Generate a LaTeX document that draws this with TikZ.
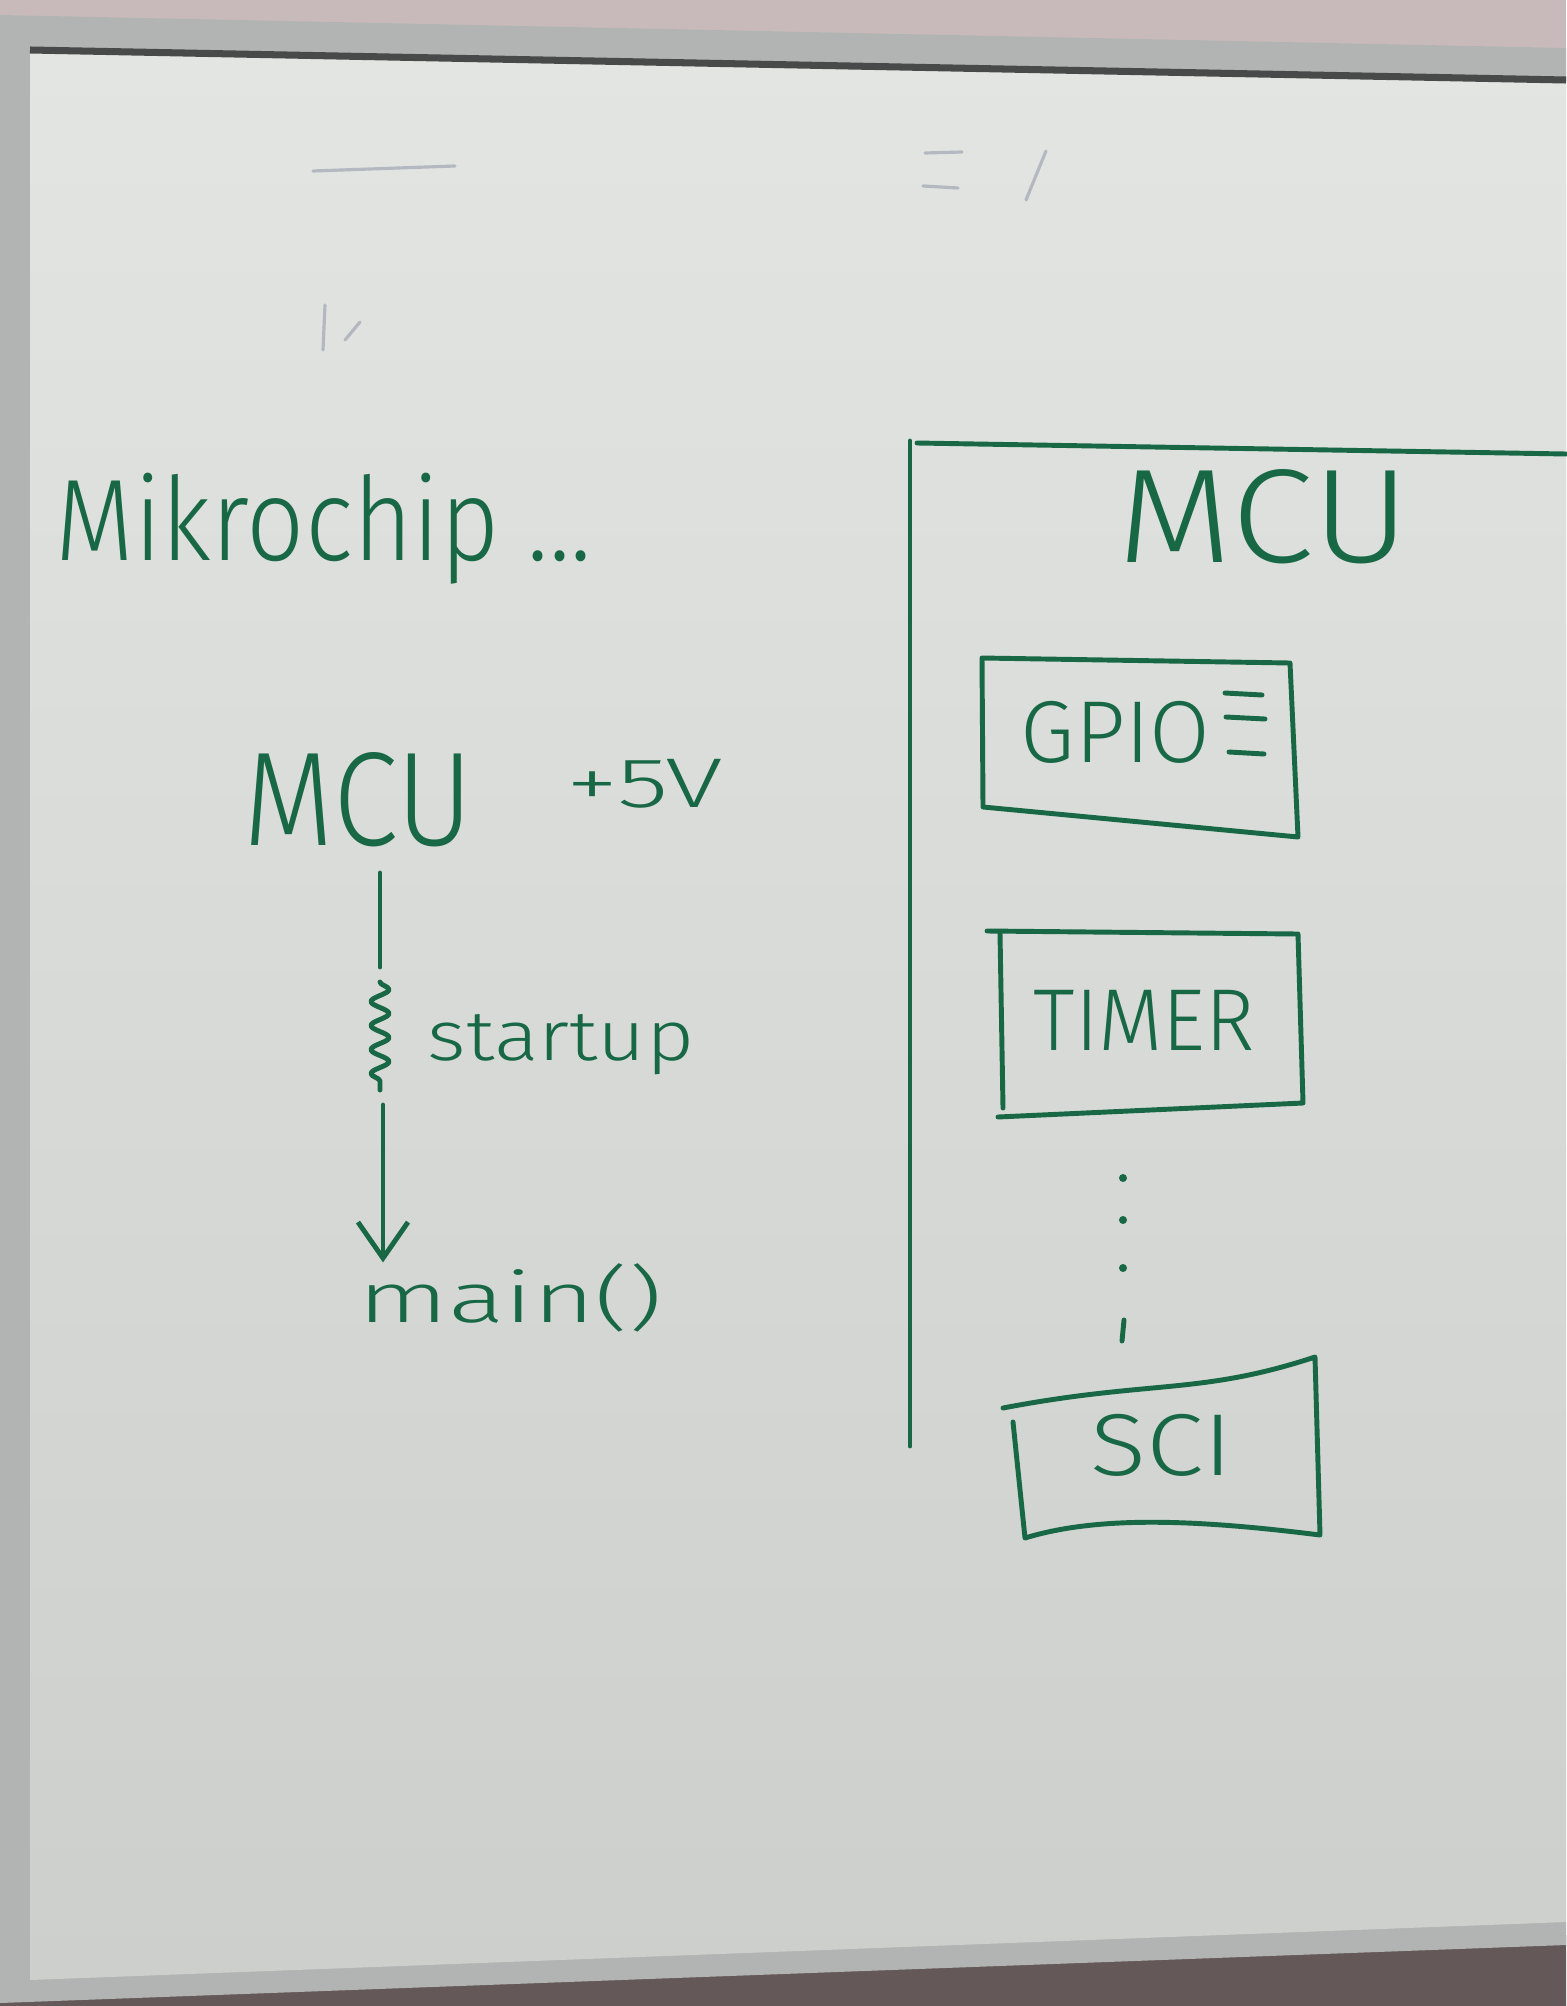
\documentclass[tikz,border=0pt]{standalone}
\usepackage{fontspec}
\newfontfamily\handfont{Fira Sans Light}
\usetikzlibrary{arrows.meta, decorations.pathmorphing}
\definecolor{marker}{RGB}{24,104,70}
\definecolor{ghost}{RGB}{150,156,172}
\definecolor{boardwhite}{RGB}{226,229,225}
\definecolor{boardshade}{RGB}{204,207,204}
\definecolor{wallpink}{RGB}{200,186,186}
\definecolor{wallbrown}{RGB}{100,88,88}
\definecolor{framegray}{RGB}{178,180,180}
\definecolor{framedark}{RGB}{72,74,74}

\begin{document}
\begin{tikzpicture}[
    x=0.01cm, y=-0.01cm,
    hand/.style={text=marker, inner sep=0pt, anchor=base west},
    bigtext/.style={hand, font=\handfont\fontsize{38pt}{44pt}\selectfont},
    midtext/.style={hand, font=\handfont\fontsize{25pt}{30pt}\selectfont},
    smalltext/.style={hand, font=\handfont\fontsize{20pt}{24pt}\selectfont},
    stroke/.style={draw=marker, line width=1.4pt, line cap=round, line join=round},
    smudge/.style={draw=ghost, line width=0.9pt, line cap=round, opacity=0.6},
    arrow/.style={stroke, -{Straight Barb[length=0.36cm, width=0.5cm]}},
  ]
  \useasboundingbox (0,0) rectangle (1566,2006);
  % wall, frame and board
  \fill[wallpink] (0,0) rectangle (1566,2006);
  \fill[wallbrown] (0,1990) -- (1566,1935) -- (1566,2006) -- (0,2006) -- cycle;
  \fill[framegray] (0,15) -- (1566,48) -- (1566,1945) -- (0,2003) -- cycle;
  \shade[top color=boardwhite, bottom color=boardshade]
    (30,52) -- (1566,82) -- (1566,1922) -- (30,1980) -- cycle;
  \draw[framedark, line width=2pt] (30,50) -- (1566,80);
  % erased leftovers
  \draw[smudge] (925,153) -- (962,152);
  \draw[smudge] (923,186) -- (958,188);
  \draw[smudge] (1046,151) -- (1026,200);
  \draw[smudge] (313,171) -- (455,166);
  \draw[smudge] (325,305) -- (323,350);
  \draw[smudge] (345,340) -- (360,322);

  % left side: boot flow
  \node[hand, font=\handfont\fontsize{33pt}{40pt}\selectfont, xscale=0.88] (title) at (55,560) {Mikrochip ...};
  \node[bigtext, xscale=0.88] (mculeft) at (243,845) {MCU};
  \node[smalltext, xscale=1.5] (volt) at (565,807) {+5V};
  \coordinate (l1) at (380,873);
  \coordinate (l2) at (380,967);
  \coordinate (z1) at (380,982);
  \coordinate (z2) at (380,1090);
  \coordinate (l3) at (383,1105);
  \node[smalltext, xscale=1.18] (startup) at (427,1060) {startup};
  \node[smalltext, xscale=1.5] (main) at (357,1322) {main()};
  \draw[stroke] (l1) -- (l2);
  \draw[stroke, decorate, decoration={snake, amplitude=0.09cm, segment length=0.24cm}] (z1) -- (z2);
  \draw[arrow] (l3) -- (main.north west -| l3);

  % right side: MCU peripherals
  \draw[stroke] (910,441) -- (910,1446);
  \draw[stroke] (917,443) -- (1566,454);
  \node[bigtext, xscale=1.12] (mcuright) at (1117,562) {MCU};

  \draw[stroke] (982,658) -- (1290,663) -- (1298,837) -- (983,807) -- cycle;
  \node[midtext] (gpio) at (1020,762) {GPIO};
  \foreach \y/\a/\b in {693/1225/1262, 717/1226/1265, 752/1229/1264}
    \draw[stroke] (\a,\y) -- (\b,\y+2);

  \draw[stroke] (987,931) -- (1298,934) -- (1303,1103) -- (998,1117);
  \draw[stroke] (1000,933) -- (1003,1108);
  \node[midtext, xscale=0.95] (timer) at (1033,1050) {TIMER};

  \foreach \y in {1178,1220,1268}
    \fill[marker] (1123,\y) circle (4);
  \draw[stroke] (1124,1320) -- (1122,1341);

  \draw[stroke] (1003,1408) .. controls (1150,1380) and (1200,1395) .. (1315,1357)
    -- (1320,1535) .. controls (1200,1520) and (1100,1515) .. (1025,1538) -- (1013,1422);
  \node[midtext, xscale=1.18] (sci) at (1090,1475) {SCI};
\end{tikzpicture}
\end{document}
